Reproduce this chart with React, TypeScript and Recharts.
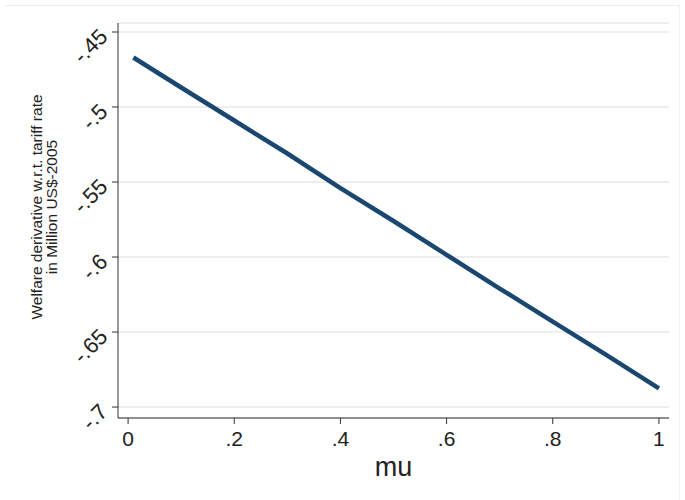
import { CartesianGrid, Label, Line, LineChart, XAxis, YAxis } from "recharts";

// values
const muValues = [0.01, 0.1, 0.2, 0.3, 0.4, 0.5, 0.6, 0.7, 0.8, 0.9, 1.0];
const welfareDeriv = [
  -0.467, -0.487, -0.509, -0.531, -0.554, -0.576, -0.5985, -0.621, -0.643,
  -0.665, -0.6875,
];
const xTicks = [0, 0.2, 0.4, 0.6, 0.8, 1];
const yTicks = [-0.7, -0.65, -0.6, -0.55, -0.5, -0.45];
const yTitle = ["Welfare derivative w.r.t. tariff rate", "in Million US$-2005"];
const xTitle = "mu";

const data = muValues.map((mu, i) => ({ mu, value: welfareDeriv[i] }));

const FONT = "Arial, 'Liberation Sans', sans-serif";
const AXIS = "#333";

// Stata-style: drop the leading zero, "-0.45" -> "-.45"
const stataFmt = (v: number) => String(v).replace("0.", ".");

const YTick = (props: any) => {
  const { x, y, payload } = props;
  const tx = x - 1;
  const ty = y + 6;
  return (
    <text
      x={tx}
      y={ty}
      transform={`rotate(-45, ${tx}, ${ty})`}
      textAnchor="end"
      fontSize={22}
      fontFamily={FONT}
      fill="#222"
    >
      {stataFmt(payload.value)}
    </text>
  );
};

const XTick = (props: any) => {
  const { x, y, payload } = props;
  return (
    <text
      x={x}
      y={y + 20}
      textAnchor="middle"
      fontSize={21}
      fontFamily={FONT}
      fill="#222"
    >
      {stataFmt(payload.value)}
    </text>
  );
};

const YTitle = () => (
  <g>
    {yTitle.map((t, i) => (
      <text
        key={i}
        x={0}
        y={0}
        transform={`translate(${42 + i * 15}, 207) rotate(-90)`}
        textAnchor="middle"
        fontSize={15.5}
        fontFamily={FONT}
        fill="#222"
      >
        {t}
      </text>
    ))}
  </g>
);

const XTitle = (props: any) => {
  const vb = props.viewBox;
  return (
    <text
      x={vb.x + vb.width / 2}
      y={vb.y + 58}
      textAnchor="middle"
      fontSize={27}
      fontFamily={FONT}
      fill="#222"
    >
      {xTitle}
    </text>
  );
};

export default function App() {
  return (
    <div
      style={{
        position: "absolute",
        left: 0,
        top: 0,
        width: 685,
        height: 500,
        background: "#fff",
      }}
    >
      <div
        style={{
          position: "absolute",
          left: 5,
          top: 5,
          width: 674,
          height: 500,
          borderTop: "1px solid #ececec",
          borderRight: "1px solid #f2f2f2",
        }}
      />
      <LineChart
        width={685}
        height={500}
        data={data}
        margin={{ top: 23, right: 16, left: 0, bottom: 0 }}
        style={{ position: "absolute", left: 0, top: 0 }}
      >
        <CartesianGrid vertical={false} stroke="#e8e8e8" strokeWidth={1.5} />
        <XAxis
          dataKey="mu"
          type="number"
          domain={[-0.019, 1.019]}
          ticks={xTicks}
          tick={<XTick />}
          tickSize={6}
          height={82}
          stroke={AXIS}
          tickLine={{ stroke: AXIS }}
          allowDataOverflow
        >
          <Label content={<XTitle />} />
        </XAxis>
        <YAxis
          type="number"
          domain={[-0.7073, -0.444]}
          ticks={yTicks}
          tick={<YTick />}
          tickSize={6}
          width={118}
          stroke={AXIS}
          tickLine={{ stroke: AXIS }}
          allowDataOverflow
        >
          <Label content={<YTitle />} />
        </YAxis>
        <Line
          type="linear"
          dataKey="value"
          stroke="#1a476f"
          strokeWidth={4.5}
          dot={false}
          isAnimationActive={false}
        />
      </LineChart>
    </div>
  );
}
